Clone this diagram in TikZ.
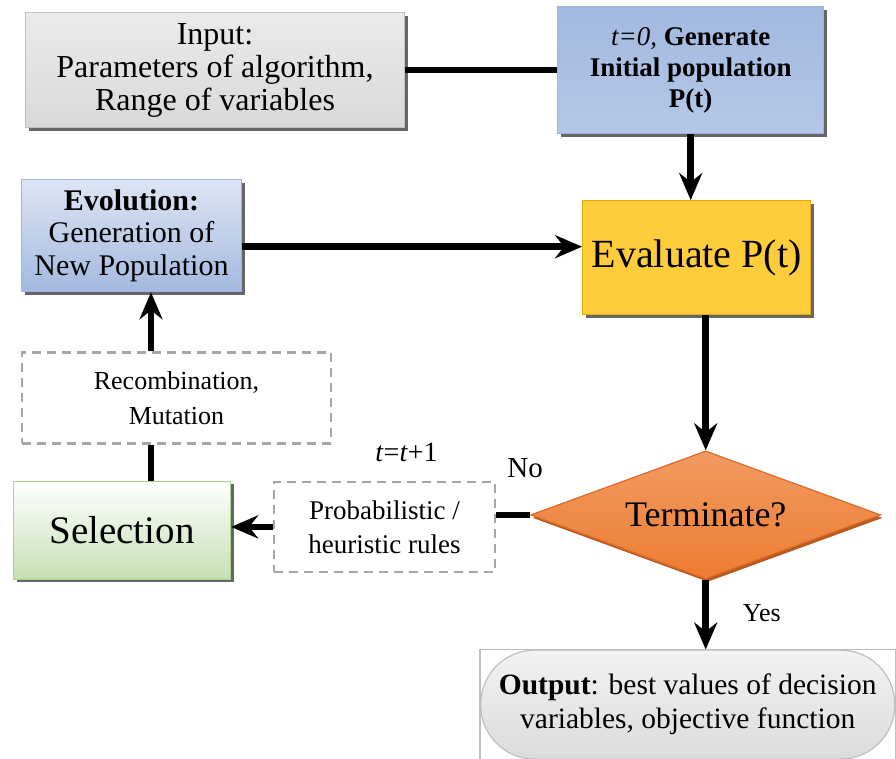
\documentclass[tikz,border=0pt]{standalone}
\usepackage{fontspec}
\setmainfont{Liberation Serif}
\usetikzlibrary{arrows.meta,positioning,shapes.geometric,shadows}
\definecolor{inedge}{HTML}{BFBFBF}
\definecolor{blueedge}{HTML}{9DB3DE}
\definecolor{blueA}{HTML}{A3B9E0}
\definecolor{blueB}{HTML}{DDE5F3}
\definecolor{blueC}{HTML}{B4C7E7}
\definecolor{goldA}{HTML}{FFCD3C}
\definecolor{goldB}{HTML}{FFC000}
\definecolor{goldedge}{HTML}{E6AC00}
\definecolor{orangeA}{HTML}{F29A62}
\definecolor{orangeB}{HTML}{ED7D31}
\definecolor{orangeedge}{HTML}{D86C28}
\definecolor{orangedark}{HTML}{B85A1E}
\definecolor{greenA}{HTML}{C5E0B4}
\definecolor{greenedge}{HTML}{A9D18E}
\definecolor{dashgray}{HTML}{A6A6A6}
\tikzset{
    %Define standard arrow tip
    >={Stealth[length=27pt,width=23pt,inset=9pt]},
    %Define style for connectors
    flow/.style={line width=6.5pt},
    %Define style for boxes
    box/.style={rectangle, draw, line width=1.2pt, align=center, inner sep=2pt,
        drop shadow={shadow xshift=3pt, shadow yshift=-3pt, fill=black!60, opacity=1}},
    inbox/.style={box, draw=inedge, top color=black!8, middle color=white, bottom color=black!15,
        font=\fontsize{32}{33}\selectfont},
    initbox/.style={box, draw=blueedge, top color=blueA, middle color=blueB, bottom color=blueC,
        font=\fontsize{27}{31}\selectfont},
    evobox/.style={box, draw=blueedge, top color=blueB, bottom color=blueA,
        font=\fontsize{30}{32.5}\selectfont},
    evalbox/.style={box, draw=goldedge, top color=goldA, middle color=goldB, bottom color=goldA,
        font=\fontsize{40}{44}\selectfont},
    selbox/.style={box, draw=greenedge, top color=white, bottom color=greenA,
        font=\fontsize{39}{42}\selectfont},
    termshape/.style={diamond, aspect=2.73, draw=orangeedge, line width=1.2pt, inner sep=0pt,
        top color=orangeA, middle color=orangeB!80!white, bottom color=orangeB,
        drop shadow={shadow xshift=2pt, shadow yshift=-3pt, fill=orangedark, opacity=1},
        font=\fontsize{36}{40}\selectfont},
    outbox/.style={rectangle, rounded corners=54pt, draw=inedge, line width=1.2pt, align=center,
        top color=black!5, middle color=white, bottom color=black!14,
        font=\fontsize{29.5}{34}\selectfont},
    outframe/.style={draw=inedge, line width=1.5pt},
    dashbox/.style={rectangle, draw=dashgray, line width=2.2pt, dash pattern=on 9pt off 6pt,
        align=center, inner sep=2pt},
    lbl/.style={inner sep=0pt},
}
\begin{document}
\begin{tikzpicture}[x=1pt, y=1pt, node distance=40pt]
    \useasboundingbox (0,0) rectangle (896,-758);

    \node[inbox, minimum width=379pt, minimum height=115pt] (input) at (215,-70)
        {Input:\\Parameters of algorithm,\\Range of variables};
    \node[initbox, minimum width=266pt, minimum height=127pt, right=152pt of input] (init)
        {{\itshape t=0,} \textbf{Generate}\\\textbf{Initial population}\\\textbf{P(t)}};
    \node[evalbox, minimum width=228pt, minimum height=114pt, below=66pt of init, xshift=6pt] (evaluate)
        {Evaluate P(t)};
    \node[termshape, minimum width=350pt, minimum height=128pt, below=135pt of evaluate, xshift=9pt] (term)
        {Terminate?};
    \node[outbox, minimum width=414pt, minimum height=109pt, below=70pt of term, xshift=-18pt] (output)
        {\textbf{Output}: best values of decision\\variables, objective function};
    \draw[outframe] (output.north west) rectangle (output.south east);

    \node[evobox, minimum width=220pt, minimum height=112pt, left=340pt of evaluate, yshift=22pt] (evolution)
        {\textbf{Evolution:}\\Generation of\\New Population};
    \node[dashbox, minimum width=309pt, minimum height=91pt, below=59pt of evolution.south west,
        anchor=north west, font=\fontsize{26}{35}\selectfont] (recomb)
        {Recombination,\\Mutation};
    \node[selbox, minimum width=217pt, minimum height=98pt, below=36pt of recomb.south west,
        anchor=north west, xshift=-8pt] (selection) {Selection};
    \node[dashbox, minimum width=221pt, minimum height=90pt, left=34pt of term, yshift=-12pt,
        font=\fontsize{27}{34}\selectfont] (rules)
        {Probabilistic /\\heuristic rules};

    \node[lbl, above=19pt of rules, xshift=22pt, font=\fontsize{28}{30}\selectfont] (tinc)
        {\textit{t}=\textit{t}+1};
    \node[lbl, above=37pt of term.west, xshift=-5pt, font=\fontsize{29}{30}\selectfont] (no) {No};
    \node[lbl, below right=25pt and 37pt of term.south, font=\fontsize{26}{28}\selectfont] (yes) {Yes};

    \draw[flow] (input) -- (init);
    \draw[flow, ->] (init) -- (init |- evaluate.north);
    \draw[flow, ->] ([yshift=-11pt]evolution.east) -- ([yshift=-11pt]evolution.east -| evaluate.west);
    \draw[flow, ->] (evaluate.south -| term.north) -- (term.north);
    \draw[flow, ->] (term.south) -- (term.south |- output.north);
    \draw[flow] (term.west) -- (term.west -| rules.east);
    \draw[flow, ->] (rules.west) -- (rules.west -| selection.east);
    \coordinate (vline) at ([xshift=29pt]selection.north);
    \draw[flow] (vline) -- (vline |- recomb.south);
    \draw[flow, ->] (vline |- recomb.north) -- (vline |- evolution.south);
\end{tikzpicture}
\end{document}
